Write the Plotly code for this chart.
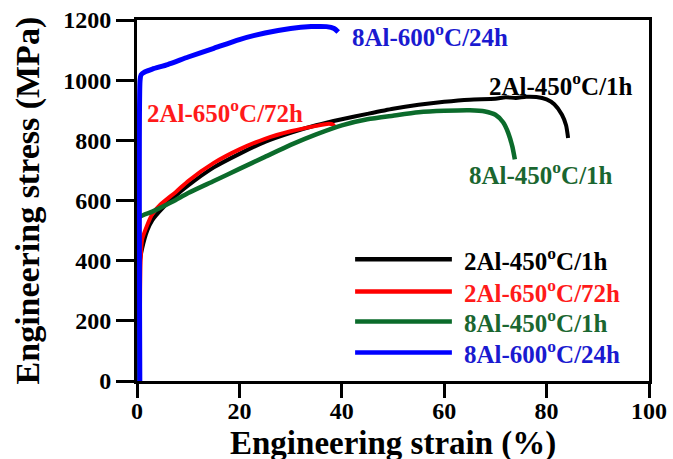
import plotly.graph_objects as go

# Engineering stress-strain curves (strain in %, stress in MPa)
names = ["2Al-450ºC/1h", "2Al-650ºC/72h", "8Al-450ºC/1h", "8Al-600ºC/24h"]
labels_html = ["2Al-450<sup>o</sup>C/1h", "2Al-650<sup>o</sup>C/72h",
               "8Al-450<sup>o</sup>C/1h", "8Al-600<sup>o</sup>C/24h"]
colors = ["#000000", "#ff0000", "#0b6b2b", "#0000ff"]
text_colors = ["#000000", "#ff1a1a", "#1a6630", "#1a1ad0"]

strain_2al_450 = [0.5, 0.5, 1.0, 2.0, 3.0, 5.0, 7.5, 10, 15, 20, 25, 30, 35, 40, 45, 50,
                  55, 60, 65, 70, 72, 74, 76, 78, 80, 81.5, 83, 83.8, 84.2]
stress_2al_450 = [0, 390, 440, 500, 535, 575, 615, 650, 710, 755, 795, 825, 850, 870, 888,
                  905, 918, 928, 935, 938, 943, 941, 945, 944, 936, 920, 885, 850, 808]

strain_2al_650 = [0.5, 0.7, 1.0, 1.9, 3.0, 4.5, 7.7, 10, 15, 20, 25, 30, 35, 37.5, 38.3, 38.7]
stress_2al_650 = [0, 393, 470, 514, 555, 585, 630, 665, 725, 770, 805, 830, 848, 855, 852, 843]

strain_8al_450 = [0.1, 0.2, 3.0, 7.0, 10, 15, 20, 25, 30, 35, 40, 45, 50, 55, 60, 65, 68,
                  70, 71.5, 72.5, 73.3, 73.8]
stress_8al_450 = [0, 540, 563, 597, 625, 665, 705, 745, 785, 820, 850, 870, 882, 893, 898,
                  900, 896, 885, 860, 825, 780, 737]

strain_8al_600 = [0.55, 0.6, 0.8, 1.5, 3.0, 6.0, 10, 15, 20, 25, 30, 34, 37, 38.5, 39.3]
stress_8al_600 = [0, 1000, 1018, 1027, 1037, 1052, 1077, 1106, 1135, 1157, 1172, 1178,
                  1178, 1172, 1160]

strains = [strain_2al_450, strain_2al_650, strain_8al_450, strain_8al_600]
stresses = [stress_2al_450, stress_2al_650, stress_8al_450, stress_8al_600]
widths = [4, 4, 4.5, 5]

x_ticks = [0, 20, 40, 60, 80, 100]
y_ticks = [0, 200, 400, 600, 800, 1000, 1200]
x_title = "Engineering strain (%)"
y_title = "Engineering stress (MPa)"

serif = "Liberation Serif"

fig = go.Figure()
for name, xs, ys, c, w in zip(names, strains, stresses, colors, widths):
    fig.add_trace(go.Scatter(x=xs, y=ys, mode="lines", name=name,
                             line=dict(color=c, width=w, shape="spline", smoothing=0.6),
                             showlegend=False))

# Labels placed next to each curve
curve_labels = [
    (68.4, 986, 0),
    (1.6, 897, 1),
    (64.5, 690, 2),
    (41.6, 1150, 3),
]
for x, y, i in curve_labels:
    fig.add_annotation(x=x, y=y, xref="x", yref="y", text=labels_html[i],
                       showarrow=False, xanchor="left", yanchor="middle",
                       font=dict(family=serif, size=25, color=text_colors[i], weight="bold"))

# Legend block drawn with long line samples
legend_y = [0.337, 0.248, 0.165, 0.079]
for i, ly in enumerate(legend_y):
    fig.add_shape(type="line", xref="paper", yref="paper",
                  x0=0.426, x1=0.615, y0=ly, y1=ly,
                  line=dict(color=colors[i], width=4.5))
    fig.add_annotation(x=0.635, y=ly, xref="paper", yref="paper", text=labels_html[i],
                       showarrow=False, xanchor="left", yanchor="middle",
                       font=dict(family=serif, size=25, color=text_colors[i], weight="bold"))

# Axis titles
title_font = dict(family=serif, size=33, color="black", weight="bold")
fig.add_annotation(x=0.5, y=-0.172, xref="paper", yref="paper", text=x_title,
                   showarrow=False, xanchor="center", yanchor="middle", font=title_font)
fig.add_annotation(x=-0.213, y=0.5, xref="paper", yref="paper", text=y_title,
                   showarrow=False, xanchor="center", yanchor="middle", textangle=-90,
                   font=dict(family=serif, size=34, color="black", weight="bold"))

axis_common = dict(showline=True, linecolor="black", linewidth=3, mirror=True,
                   ticks="outside", tickcolor="black", tickwidth=3,
                   showgrid=False, zeroline=False, automargin=False,
                   tickfont=dict(family=serif, size=24, color="black", weight="bold"))

fig.update_xaxes(range=[0, 100], tickvals=x_ticks, ticklen=14, ticklabelstandoff=-8,
                 **axis_common)
fig.update_yaxes(range=[0, 1200], tickvals=y_ticks, ticklen=18, **axis_common)

fig.update_layout(width=673, height=459,
                  margin=dict(l=137, r=24, t=20, b=78),
                  plot_bgcolor="white", paper_bgcolor="white")

fig.write_html("out.html")
